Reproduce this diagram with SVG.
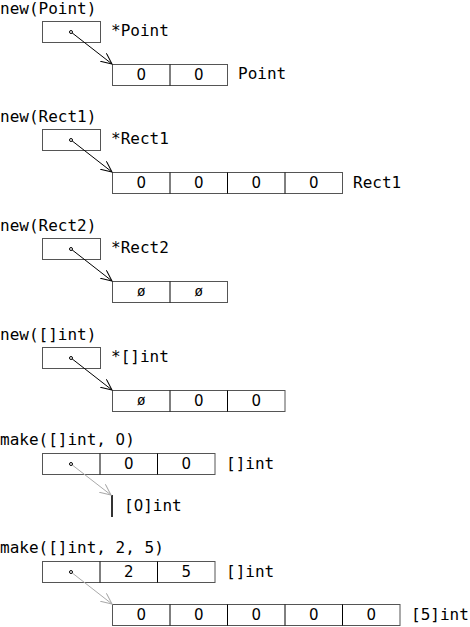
<svg xmlns="http://www.w3.org/2000/svg" width="470" height="627" viewBox="0 0 470 627">
<style>
text{font-family:"DejaVu Sans Mono","Liberation Mono",monospace;font-size:16px;fill:#000}
.c{text-anchor:middle}
.z{font-family:"DejaVu Sans","Liberation Sans",sans-serif;font-size:15px}
.n{font-size:14px}
.box{fill:#fff;stroke:#555;stroke-width:1}
.div{stroke:#000;stroke-width:1}
.dot{fill:#fff;stroke:#000;stroke-width:1}
.pb{stroke:#000;stroke-width:1;fill:none}
.pg{stroke:#aaa;stroke-width:1;fill:none}
</style>
<defs>
<marker id="ab" markerUnits="userSpaceOnUse" markerWidth="14" markerHeight="12" refX="11" refY="5" orient="auto"><path d="M0,0 L11,5 L0,10" fill="none" stroke="#000" stroke-width="1"/></marker>
<marker id="ag" markerUnits="userSpaceOnUse" markerWidth="14" markerHeight="12" refX="11" refY="5" orient="auto"><path d="M0,0 L11,5 L0,10" fill="none" stroke="#aaa" stroke-width="1"/></marker>
</defs>
<rect width="470" height="627" fill="#fff"/>

<g id="row1">
<text x="0" y="14">new(Point)</text>
<g id="p1"><rect class="box" x="42.5" y="21.5" width="58" height="21"/></g>
<text x="111" y="36">*Point</text>
<g id="t1"><rect class="box" x="112.5" y="64.5" width="115" height="21"/><line class="div" x1="170" y1="64.5" x2="170" y2="85.5"/>
<text class="c z" x="141.25" y="80">0</text><text class="c z" x="198.75" y="80">0</text></g>
<text x="238" y="79">Point</text>
</g>

<g id="row2">
<text x="0" y="122">new(Rect1)</text>
<g id="p2"><rect class="box" x="42.5" y="129.5" width="58" height="21"/></g>
<text x="111" y="144">*Rect1</text>
<g id="t2"><rect class="box" x="112.5" y="172.5" width="230" height="21"/>
<line class="div" x1="170" y1="172.5" x2="170" y2="193.5"/><line class="div" x1="227.5" y1="172.5" x2="227.5" y2="193.5"/><line class="div" x1="285" y1="172.5" x2="285" y2="193.5"/>
<text class="c z" x="141.25" y="188">0</text><text class="c z" x="198.75" y="188">0</text><text class="c z" x="256.25" y="188">0</text><text class="c z" x="313.75" y="188">0</text></g>
<text x="353" y="188">Rect1</text>
</g>

<g id="row3">
<text x="0" y="231">new(Rect2)</text>
<g id="p3"><rect class="box" x="42.5" y="238.5" width="58" height="21"/></g>
<text x="111" y="253">*Rect2</text>
<g id="t3"><rect class="box" x="112.5" y="281.5" width="115" height="21"/><line class="div" x1="170" y1="281.5" x2="170" y2="302.5"/>
<text class="c n" x="141.25" y="296">ø</text><text class="c n" x="198.75" y="296">ø</text></g>
</g>

<g id="row4">
<text x="0" y="340">new([]int)</text>
<g id="p4"><rect class="box" x="42.5" y="347.5" width="58" height="21"/></g>
<text x="111" y="362">*[]int</text>
<g id="t4"><rect class="box" x="112.5" y="390.5" width="172.5" height="21"/>
<line class="div" x1="170" y1="390.5" x2="170" y2="411.5"/><line class="div" x1="227.5" y1="390.5" x2="227.5" y2="411.5"/>
<text class="c n" x="141.25" y="405">ø</text><text class="c z" x="198.75" y="406">0</text><text class="c z" x="256.25" y="406">0</text></g>
</g>

<g id="row5">
<text x="0" y="445">make([]int, <tspan class="z">0</tspan>)</text>
<g id="p5"><rect class="box" x="42.5" y="453.5" width="172.5" height="21"/>
<line class="div" x1="100" y1="453.5" x2="100" y2="474.5"/><line class="div" x1="157.5" y1="453.5" x2="157.5" y2="474.5"/>
<text class="c z" x="128.75" y="469">0</text><text class="c z" x="186.25" y="469">0</text></g>
<text x="226" y="469">[]int</text>
<g id="t5"><rect x="111" y="495" width="2" height="22" fill="#333"/></g>
<text x="124" y="511">[<tspan class="z">0</tspan>]int</text>
</g>

<g id="row6">
<text x="0" y="553">make([]int, 2, 5)</text>
<g id="p6"><rect class="box" x="42.5" y="561.5" width="172.5" height="21"/>
<line class="div" x1="100" y1="561.5" x2="100" y2="582.5"/><line class="div" x1="157.5" y1="561.5" x2="157.5" y2="582.5"/>
<text class="c z" x="128.75" y="577">2</text><text class="c z" x="186.25" y="577">5</text></g>
<text x="226" y="577">[]int</text>
<g id="t6"><rect class="box" x="112.5" y="604.5" width="287.5" height="21"/>
<line class="div" x1="170" y1="604.5" x2="170" y2="625.5"/><line class="div" x1="227.5" y1="604.5" x2="227.5" y2="625.5"/><line class="div" x1="285" y1="604.5" x2="285" y2="625.5"/><line class="div" x1="342.5" y1="604.5" x2="342.5" y2="625.5"/>
<text class="c z" x="141.25" y="620">0</text><text class="c z" x="198.75" y="620">0</text><text class="c z" x="256.25" y="620">0</text><text class="c z" x="313.75" y="620">0</text><text class="c z" x="371.25" y="620">0</text></g>
<text x="411" y="620">[5]int</text>
</g>

<g id="connectors">
<line class="pb" x1="71" y1="32" x2="112" y2="64" marker-end="url(#ab)"/>
<line class="pb" x1="71" y1="140" x2="112" y2="172" marker-end="url(#ab)"/>
<line class="pb" x1="71" y1="249" x2="112" y2="281" marker-end="url(#ab)"/>
<line class="pb" x1="71" y1="358" x2="112" y2="390" marker-end="url(#ab)"/>
<line class="pg" x1="71" y1="464" x2="111" y2="495" marker-end="url(#ag)"/>
<line class="pg" x1="71" y1="572" x2="112" y2="604" marker-end="url(#ag)"/>
<circle class="dot" cx="71" cy="32" r="1.5"/>
<circle class="dot" cx="71" cy="140" r="1.5"/>
<circle class="dot" cx="71" cy="249" r="1.5"/>
<circle class="dot" cx="71" cy="358" r="1.5"/>
<circle class="dot" cx="71" cy="464" r="1.5"/>
<circle class="dot" cx="71" cy="572" r="1.5"/>
</g>
</svg>
